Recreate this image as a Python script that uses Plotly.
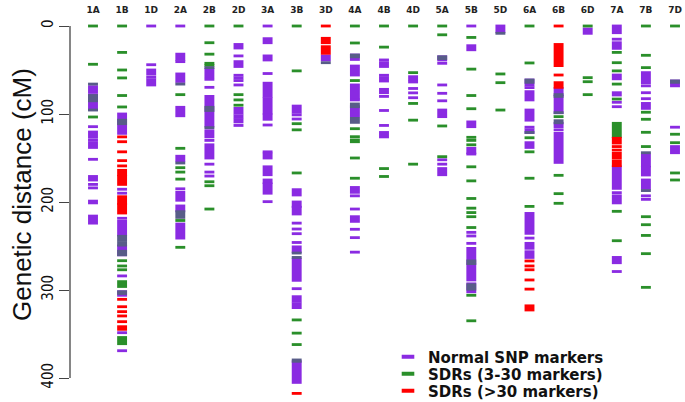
import plotly.graph_objects as go

# ---------------- data (genetic positions in cM) ----------------
chromosomes = ["1A", "1B", "1D", "2A", "2B", "2D", "3A", "3B", "3D", "4A", "4B",
               "4D", "5A", "5B", "5D", "6A", "6B", "6D", "7A", "7B", "7D"]

y_ticks = [0, 100, 200, 300, 400]

# each entry: list of [start, end] marker runs (cM) for one chromosome
normal_snp = [
    # 1A
    [[69, 75], [78, 95], [114.4, 114.4], [120.5, 126.5], [130, 130], [133, 138], [151.5, 151.5],
     [171, 175], [180, 180], [184, 184], [199, 201], [216, 224]],
    # 1B
    [[100, 122], [185.5, 185.5], [190, 190], [218.5, 218.5], [222, 237.5], [250, 260], [284, 284],
     [302, 306], [348.5, 348.5], [369, 369]],
    # 1D
    [[0, 0], [44, 44], [50, 54.5], [58, 58], [61, 67]],
    # 2A
    [[0, 0], [32, 38], [40.5, 40.5], [54.5, 63], [92.4, 102], [148, 153], [185, 185], [189, 198],
     [204.5, 210], [225, 241]],
    # 2B
    [[49, 57.6], [60.6, 60.6], [69.7, 69.7], [80, 113.6], [119, 126], [130, 130], [135, 150],
     [157, 157], [166, 166], [170.5, 170.5]],
    # 2D
    [[21, 25], [34, 34], [40.5, 46], [56, 56], [59, 59], [62, 62], [67, 67], [93.6, 99],
     [102, 104], [107, 109], [113, 113]],
    # 3A
    [[0, 0], [14.4, 19], [34, 38.6], [54, 54], [65, 80], [82.6, 99], [101, 106], [112.5, 112.5],
     [143, 143], [145.5, 150], [160, 169], [175, 178], [179.5, 190], [199.6, 199.6]],
    # 3B
    [[91, 98], [101, 101], [105.7, 105.7], [186, 192], [200, 205], [206, 213.6], [224, 224],
     [230.7, 230.7], [236, 236], [246, 246], [251, 256.5], [265, 289], [298.5, 298.5],
     [307.6, 313], [316, 320], [381.5, 405]],
    # 3D
    [[34, 38.6]],
    # 4A
    [[33, 38], [45.5, 55.7], [67, 82], [84, 84], [91.7, 102], [183.5, 189], [193, 193], [208, 208],
     [216.7, 222], [231, 231], [240.5, 240.5], [257, 257]],
    # 4B
    [[38.6, 38.6], [41.7, 46], [56, 56], [58.7, 62.5], [72, 75.8], [80, 80], [96, 96], [113, 113],
     [121, 126]],
    # 4D
    [[57.6, 61], [63.6, 63.6], [71, 71], [76, 76], [81.5, 81.5]],
    # 5A
    [[35, 38.6], [42.4, 42.4], [67, 67], [76.5, 76.5], [85, 85], [95.5, 103], [152, 152],
     [157, 157], [162, 169]],
    # 5B
    [[0, 0], [22.4, 27], [109, 114.4], [139, 144], [145.5, 145.5], [234.5, 234.5], [238.6, 238.6],
     [247, 247], [252.7, 266], [269, 269], [271.6, 288.6], [293, 302]],
    # 5D
    [[0, 6.5]],
    # 6A
    [[61.4, 67], [70, 70], [74.6, 84], [95.5, 107], [115, 115], [118, 118], [121, 121],
     [132.6, 138], [213, 235.6], [241, 241], [247, 252.6], [256.5, 263]],
    # 6B
    [[71, 78], [80, 98.5], [110.6, 114.4], [118, 118], [122, 155]],
    # 6D
    [[3.4, 8.3]],
    # 7A
    [[0, 7.6], [15, 15], [19, 25.4], [55.7, 60], [75.8, 78.4], [86.7, 86.7], [91.7, 91.7],
     [160, 184.5], [189.4, 189.4], [193, 201], [263, 269], [279, 279]],
    # 7B
    [[53, 64.4], [68, 68], [75.8, 75.8], [82.6, 82.6], [88, 93.6], [146.6, 159], [160.6, 169.3],
     [175, 184.5], [193, 193], [197, 197]],
    # 7D
    [[62.5, 68], [115, 115], [137, 144]],
]

sdr_small = [
    # 1A
    [[0, 0], [43.5, 43.5], [66, 66], [79, 85], [95.5, 95.5], [103.4, 103.4]],
    # 1B
    [[0, 0], [30, 30], [50, 50], [59, 59], [79, 79], [92, 92], [107, 111], [239, 243], [246, 249],
     [256, 260], [266.7, 266.7], [272.7, 272.7], [277, 277], [290.5, 296], [302, 304], [354, 361]],
    # 1D
    [],
    # 2A
    [[66, 66], [78, 78], [139, 139], [155.7, 155.7], [161, 161], [166, 166], [174, 174],
     [211, 217.5], [221, 221], [251.5, 251.5]],
    # 2B
    [[0, 0], [19, 19], [32, 32], [42.4, 42.4], [44.7, 44.7], [47.3, 47.3], [92.4, 96],
     [115.5, 115.5], [177, 177], [181.5, 181.5], [208, 208]],
    # 2D
    [[0, 0], [78, 78], [84, 84], [90, 90]],
    # 3A
    [],
    # 3B
    [[0, 0], [51, 51], [111, 111], [118, 118], [167, 167], [258, 258], [263, 263], [334, 334],
     [349, 349], [362, 362], [379.5, 381]],
    # 3D
    [[41.7, 41.7]],
    # 4A
    [[0, 0], [19.3, 19.3], [33, 35], [62, 62], [88.6, 91.7], [105, 109.5], [116.7, 116.7],
     [125.8, 125.8], [129.5, 131.5], [150, 150], [173, 173]],
    # 4B
    [[0, 0], [24, 24], [162, 162], [171, 171]],
    # 4D
    [[0, 0], [53, 53], [88, 88], [107, 107], [157, 157]],
    # 5A
    [[0, 0], [10, 10], [35, 37], [113.6, 113.6], [148.5, 148.5]],
    # 5B
    [[13, 13], [49, 49], [79, 79], [94, 94], [126.5, 126.5], [130, 130], [135, 135], [160, 160],
     [176, 176], [196, 196], [207, 207], [212, 212], [216.7, 216.7], [229, 229], [267, 270],
     [294, 299], [306, 306], [335, 335]],
    # 5D
    [[8.3, 8.3], [54.5, 54.5], [64.4, 64.4], [95.5, 95.5]],
    # 6A
    [[0, 0], [42, 42], [61.4, 64], [121, 121], [127, 127], [143, 143], [173, 173], [205, 205]],
    # 6B
    [[78, 80], [98.5, 98.5], [103, 103], [107.6, 110], [169.7, 169.7], [190.5, 190.5],
     [201.5, 201.5]],
    # 6D
    [[0, 0], [58.7, 58.7], [63.3, 63.3], [78, 78]],
    # 7A
    [[30, 30], [41.7, 41.7], [51, 51], [66, 66], [83, 83], [110.6, 125.8], [210.6, 210.6],
     [244, 244]],
    # 7B
    [[0, 0], [33.3, 33.3], [47.3, 47.3], [98, 98], [106, 106], [120.8, 120.8], [137, 137],
     [144, 144], [187, 187], [216.7, 216.7], [225.8, 225.8], [238, 238], [258.7, 258.7],
     [297, 297]],
    # 7D
    [[0, 0], [62.5, 64], [123, 123], [132.6, 132.6], [167, 167], [175, 175]],
]

sdr_large = [
    [],  # 1A
    [[126, 126], [131.5, 131.5], [143, 143], [153, 153], [159, 159], [164, 169], [171, 180],
     [194, 201.5], [203, 212.5], [310.6, 310.6], [319, 319], [324.6, 324.6], [329.5, 329.5],
     [336, 336], [341.7, 344.7]],  # 1B
    [], [], [], [], [],  # 1D 2A 2B 2D 3A
    [[417.5, 417.5]],  # 3B
    [[0, 0], [14, 19], [23.5, 23.5], [26.5, 31]],  # 3D
    [], [], [], [], [], [],  # 4A 4B 4D 5A 5B 5D
    [[267, 267], [272.7, 272.7], [277, 277], [288.6, 288.6], [299, 299], [318, 322.7]],  # 6A
    [[0, 0], [21, 45], [55.7, 55.7], [64.4, 69.7]],  # 6B
    [],  # 6D
    [[127.6, 133], [137, 137], [141, 141], [144.7, 150], [153.4, 158.7]],  # 7A
    [], [],  # 7B 7D
]

legend_names = ["Normal SNP markers", "SDRs (3-30 markers)", "SDRs (>30 markers)"]

# ---------------- styling ----------------
PURPLE = "#8A2BE2"
GREEN = "#2A8F2A"
RED = "#FF0000"
MIXED = "#585C88"   # green run lying on top of purple run
HALF = 1.6          # half thickness of one marker tick in cM
BAR_W = 0.34


def overlaps(seg, segs):
    s, e = seg
    return any(s - HALF <= pe + HALF and e + HALF >= ps - HALF for ps, pe in segs)


def runs_to_bars(table, filt=None):
    xs, bases, heights = [], [], []
    for i, segs in enumerate(table):
        for seg in segs:
            if filt is not None and not filt(i, seg):
                continue
            s, e = seg
            xs.append(i)
            bases.append(s - HALF)
            heights.append(e - s + 2 * HALF)
    return xs, bases, heights


fig = go.Figure()


def add_bars(table, color, filt=None):
    xs, bases, heights = runs_to_bars(table, filt)
    fig.add_trace(go.Bar(x=xs, y=heights, base=bases, width=BAR_W,
                         marker=dict(color=color, line=dict(width=0)),
                         showlegend=False, hoverinfo="skip"))


add_bars(normal_snp, PURPLE)
add_bars(sdr_small, GREEN, lambda i, seg: not overlaps(seg, normal_snp[i]))
add_bars(sdr_small, MIXED, lambda i, seg: overlaps(seg, normal_snp[i]))
add_bars(sdr_large, RED)

# legend entries
legend_ids = ["legend", "legend2", "legend3"]
for name, color, lid in zip(legend_names, [PURPLE, GREEN, RED], legend_ids):
    fig.add_trace(go.Scatter(x=[None], y=[None], mode="markers", name=name,
                             marker=dict(symbol="line-ew", size=9,
                                         line=dict(width=4, color=color)),
                             legend=lid, showlegend=True))

L, R, T, B = 70, 0, 22, 2
W, H = 685, 402
plot_w, plot_h = W - L - R, H - T - B
px_per_unit = 29.1
px_per_cm = 0.88
x0 = -(93 - L) / px_per_unit
x1 = x0 + plot_w / px_per_unit
y_top = -(26 - T) / px_per_cm
y_bot = y_top + plot_h / px_per_cm


def ypaper(py):
    return (H - B - py) / plot_h


leg_common = dict(x=(388 - L) / plot_w, xanchor="left", yanchor="middle",
                  bgcolor="rgba(0,0,0,0)", borderwidth=0,
                  font=dict(family="DejaVu Sans", size=15, weight="bold", color="#111"),
                  itemsizing="trace", tracegroupgap=0)

fig.update_layout(
    width=W, height=H,
    margin=dict(l=L, r=R, t=T, b=B, autoexpand=False),
    paper_bgcolor="white", plot_bgcolor="white",
    barmode="overlay",
    legend=dict(y=ypaper(357), **leg_common),
    legend2=dict(y=ypaper(374), **leg_common),
    legend3=dict(y=ypaper(391), **leg_common),
    xaxis=dict(range=[x0, x1], side="top", tickmode="array",
               tickvals=list(range(len(chromosomes))), ticktext=chromosomes,
               tickfont=dict(family="DejaVu Sans", size=9, weight="bold", color="#222"),
               showgrid=False, zeroline=False, showline=False, ticks="",
               ticklabelstandoff=6, automargin=False, fixedrange=True),
    yaxis=dict(range=[y_bot, y_top], tickmode="array", tickvals=y_ticks,
               ticktext=[str(v) for v in y_ticks], ticks="outside", ticklen=10,
               tickwidth=1.3, tickcolor="#444", tickangle=-90,
               tickfont=dict(family="Liberation Sans Narrow, DejaVu Sans Condensed, Liberation Sans",
                             size=15, color="#111"),
               showgrid=False, zeroline=False, showline=False, automargin=False,
               fixedrange=True),
    shapes=[dict(type="line", xref="paper", yref="y", x0=0, x1=0,
                 y0=y_ticks[0], y1=y_ticks[-1], line=dict(color="#444", width=1.3))],
    annotations=[dict(text="Genetic distance (cM)", textangle=-90, showarrow=False,
                      xref="paper", yref="paper", x=(22 - L) / plot_w, y=ypaper(195),
                      xanchor="center", yanchor="middle",
                      font=dict(family="Liberation Sans", size=26, color="#111"))],
)

fig.write_html("out.html", config={"displayModeBar": False},
               post_script="document.body.style.margin='0';document.body.style.padding='0';")
